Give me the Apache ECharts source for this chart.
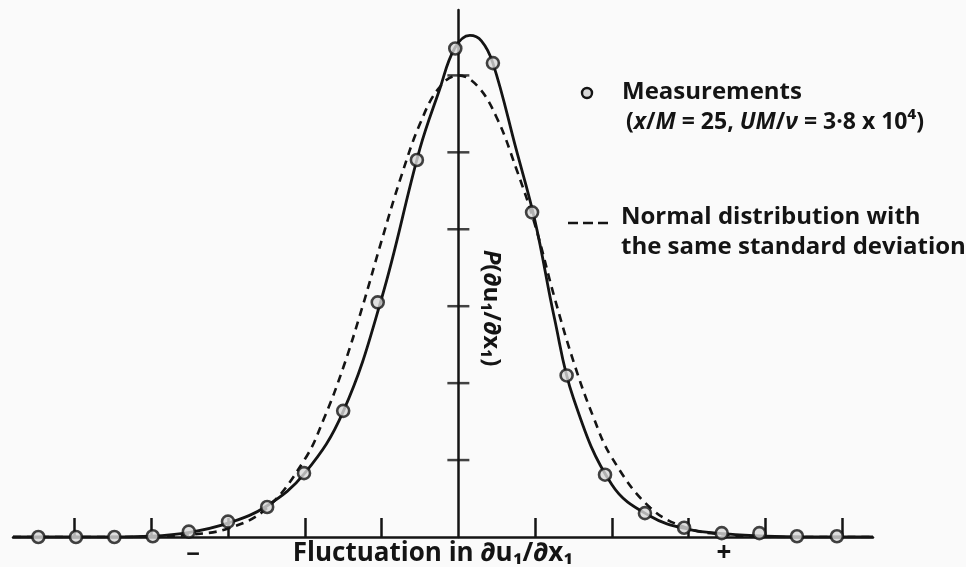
<!DOCTYPE html>
<html>
<head>
<meta charset="utf-8">
<script src="https://cdn.jsdelivr.net/npm/echarts@6/dist/echarts.min.js"></script>
<style>
html,body{margin:0;padding:0;background:#fafafa;}
#chart{width:966px;height:567px;}
</style>
</head>
<body>
<div id="chart"></div>
<script>
// Measurement points (x in units of the tick spacing, y in units of the tick spacing)
const measX = [-5.47,-4.98,-4.48,-3.98,-3.51,-3.0,-2.49,-2.01,-1.50,-1.05,-0.54,-0.04,0.45,0.96,1.41,1.91,2.43,2.94,3.43,3.92,4.41,4.93];
const measY = [0,0,0,0.01,0.07,0.2,0.39,0.83,1.64,3.05,4.9,6.35,6.16,4.22,2.1,0.81,0.31,0.12,0.05,0.05,0.01,0.01];

// Smooth curve drawn through the measurements
const fitX = [-5.8,-4.5,-4.0,-3.5,-3.0,-2.5,-2.0,-1.5,-1.0,-0.5,-0.25,-0.05,0.15,0.3,0.45,0.75,1.0,1.25,1.5,2.0,2.5,3.0,3.5,4.0,4.5,5.4];
const fitY = [0,0,0.01,0.06,0.18,0.4,0.83,1.63,3.1,5.05,5.8,6.35,6.52,6.45,6.16,5.05,4.1,2.85,1.8,0.68,0.27,0.1,0.04,0.01,0,0];

// Normal distribution with the same standard deviation (dashed)
const normX = [-5.8,-4.0,-3.5,-3.0,-2.5,-2.0,-1.75,-1.5,-1.25,-1.0,-0.75,-0.5,-0.25,0,0.25,0.5,0.75,1.0,1.25,1.5,1.75,2.0,2.5,3.0,3.5,4.0,5.4];
const normY = [0,0,0.03,0.11,0.37,1.01,1.54,2.2,2.99,3.85,4.67,5.37,5.84,6.0,5.86,5.45,4.8,4.05,3.12,2.28,1.58,1.03,0.38,0.11,0.03,0,0];

// Tick positions
const xTicks = [-5,-4,-3,-2,-1,1,2,3,4,5];
const yTicks = [1,2,3,4,5,6];

const zip = (a,b) => a.map((v,i)=>[v,b[i]]);
const FONT = '"Open Sans"';
const INK = '#141414';

const chart = echarts.init(document.getElementById('chart'), null, {renderer:'canvas'});
chart.setOption({
  backgroundColor:'#fafafa',
  animation:false,
  grid:{left:13,right:93,top:10,bottom:30,containLabel:false},
  xAxis:{
    type:'value',min:-5.8,max:5.4,
    axisLine:{show:true,onZero:true,lineStyle:{color:INK,width:2.5}},
    axisTick:{show:true,inside:true,length:19,customValues:xTicks,lineStyle:{color:INK,width:2.5}},
    axisLabel:{show:false},
    splitLine:{show:false}
  },
  yAxis:{
    type:'value',min:0,max:6.85,
    axisLine:{show:true,onZero:true,lineStyle:{color:INK,width:2.5}},
    axisTick:{show:false},
    axisLabel:{show:false},
    splitLine:{show:false}
  },
  series:[
    {type:'scatter',data:yTicks.map(v=>[0,v]),symbol:'rect',symbolSize:[22,2.5],
     itemStyle:{color:INK},silent:true,z:3},
    {type:'line',data:zip(normX,normY),smooth:0.4,showSymbol:false,
     lineStyle:{color:INK,width:2.6,type:[8,6]},z:4},
    {type:'line',data:zip(fitX,fitY),smooth:0.4,showSymbol:false,
     lineStyle:{color:INK,width:2.8},z:5},
    {type:'scatter',data:zip(measX,measY),symbol:'circle',symbolSize:12,
     itemStyle:{color:'#d8d8d8',borderColor:INK,borderWidth:2.6},z:6}
  ],
  graphic:[
    {type:'circle',shape:{cx:587,cy:93,r:5},style:{fill:'#d8d8d8',stroke:INK,lineWidth:2.4}},
    {type:'text',x:622,y:92,style:{text:'Measurements',font:'bold 24px '+FONT,fill:INK,textVerticalAlign:'middle'}},
    {type:'text',x:626,y:122,style:{
      text:'({i|x}/{i|M} = 25, {i|UM}/{i|ν} = 3·8 x 10⁴)',
      font:'bold 23px '+FONT,fill:INK,textVerticalAlign:'middle',
      rich:{i:{fontStyle:'italic',fontWeight:'bold',fontSize:23,fontFamily:'Open Sans',fill:INK}}}},
    {type:'line',shape:{x1:568,y1:223,x2:613,y2:223},style:{stroke:INK,lineWidth:2.6,lineDash:[10,5]}},
    {type:'text',x:621,y:217,style:{text:'Normal distribution with',font:'bold 24px '+FONT,fill:INK,textVerticalAlign:'middle'}},
    {type:'text',x:621,y:247,style:{text:'the same standard deviation',font:'bold 24px '+FONT,fill:INK,textVerticalAlign:'middle'}},
    {type:'text',x:433,y:554,style:{text:'Fluctuation in ∂u₁/∂x₁',font:'bold 26px '+FONT,fill:INK,textAlign:'center',textVerticalAlign:'middle'}},
    {type:'text',x:193,y:555,style:{text:'−',font:'bold 24px '+FONT,fill:INK,textAlign:'center',textVerticalAlign:'middle'}},
    {type:'text',x:724,y:554,style:{text:'+',font:'bold 26px '+FONT,fill:INK,textAlign:'center',textVerticalAlign:'middle'}},
    {type:'text',x:491,y:308,rotation:-Math.PI/2,style:{
      text:'{i|P}(∂u₁/∂x₁)',font:'bold 24px '+FONT,fill:INK,textAlign:'center',textVerticalAlign:'middle',
      rich:{i:{fontStyle:'italic',fontWeight:'bold',fontSize:24,fontFamily:'Open Sans',fill:INK}}}}
  ]
});
</script>
</body>
</html>
